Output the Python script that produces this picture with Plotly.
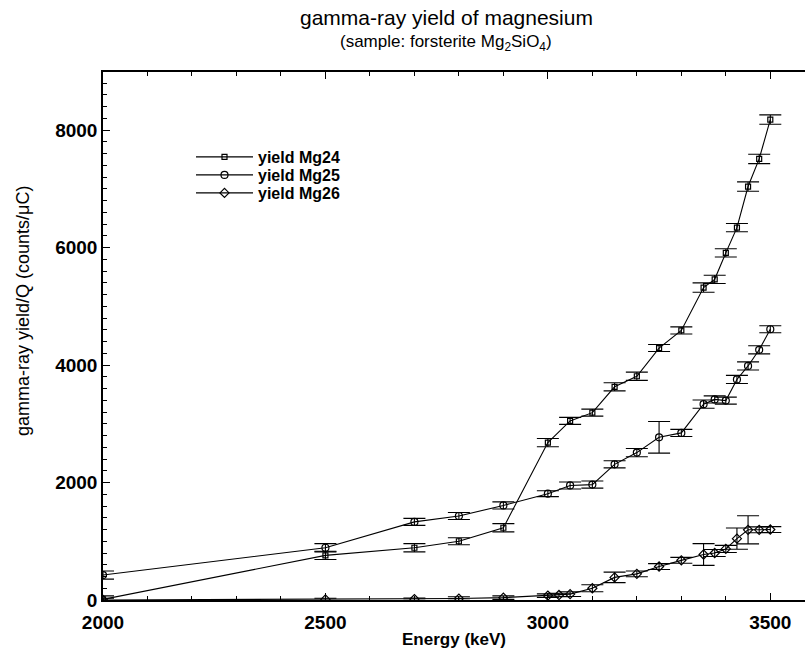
import plotly.graph_objects as go

# Energies (keV) and yields (counts/uC)
E24 = [2000, 2500, 2700, 2800, 2900, 3000, 3050, 3100, 3150, 3200, 3250, 3300, 3350, 3375, 3400, 3425, 3450, 3475, 3500]
Y24 = [10, 760, 890, 1000, 1230, 2680, 3050, 3190, 3630, 3810, 4290, 4590, 5320, 5460, 5910, 6340, 7040, 7510, 8180]
ERR24 = [60, 70, 70, 60, 70, 70, 60, 60, 70, 70, 60, 60, 80, 70, 70, 70, 80, 80, 80]

E25 = [2000, 2500, 2700, 2800, 2900, 3000, 3050, 3100, 3150, 3200, 3250, 3300, 3350, 3375, 3400, 3425, 3450, 3475, 3500]
Y25 = [425, 890, 1330, 1430, 1610, 1810, 1950, 1965, 2310, 2510, 2770, 2845, 3335, 3415, 3395, 3755, 3985, 4260, 4610]
ERR25 = [70, 70, 60, 60, 60, 50, 60, 60, 60, 70, 270, 60, 70, 60, 60, 70, 70, 70, 60]

E26 = [2000, 2500, 2700, 2800, 2900, 3000, 3025, 3050, 3100, 3150, 3200, 3250, 3300, 3350, 3375, 3400, 3425, 3450, 3475, 3500]
Y26 = [0, 10, 15, 25, 40, 75, 85, 100, 200, 385, 445, 570, 675, 775, 800, 870, 1045, 1195, 1195, 1200]
ERR26 = [30, 20, 20, 30, 30, 30, 30, 40, 60, 90, 50, 50, 50, 185, 60, 60, 180, 240, 50, 50]

NAMES = ["yield Mg24", "yield Mg25", "yield Mg26"]
SYMBOLS = ["square-open", "circle-open", "diamond-open"]
SIZES = [5, 7, 7]
LEGENDS = ["legend", "legend2", "legend3"]

FONT = "Liberation Sans, Arial, sans-serif"

fig = go.Figure()
for E, Y, ERR, name, sym, sz, lg in zip([E24, E25, E26], [Y24, Y25, Y26], [ERR24, ERR25, ERR26],
                                        NAMES, SYMBOLS, SIZES, LEGENDS):
    fig.add_trace(go.Scatter(
        x=E, y=Y, name=name, mode="lines+markers", legend=lg,
        line=dict(color="black", width=1.1),
        marker=dict(symbol=sym, size=sz, color="black", line=dict(color="black", width=1.2)),
        error_y=dict(type="data", array=ERR, visible=True, color="black", thickness=1.1, width=11),
    ))

axis_common = dict(
    showgrid=False, zeroline=False, showline=True, linecolor="black", linewidth=1.5,
    ticks="inside", ticklen=7, tickwidth=1.2, tickcolor="black",
    tickfont=dict(family=FONT, size=19, color="black", weight="bold"),
)

fig.update_xaxes(
    range=[2000, 3578], tickvals=[2000, 2500, 3000, 3500], mirror="ticks",
    ticklabelstandoff=4,
    minor=dict(ticks="inside", dtick=100, tick0=2000, ticklen=4, tickwidth=1, tickcolor="black"),
    title=dict(text="Energy (keV)", standoff=2,
               font=dict(family=FONT, size=17, color="black", weight="bold")),
    **axis_common,
)
fig.update_yaxes(
    range=[0, 8990], tickvals=[0, 2000, 4000, 6000, 8000], mirror=False,
    minor=dict(ticks="inside", dtick=200, tick0=0, ticklen=4, tickwidth=1, tickcolor="black"),
    **axis_common,
)

legend_common = dict(xanchor="left", yanchor="middle", bgcolor="rgba(0,0,0,0)",
                     font=dict(family=FONT, size=16, color="black", weight="bold"),
                     itemwidth=57)
ROW_PX = [157, 175, 193]
LEG_X = (191 - 103) / 702

fig.update_layout(
    width=805, height=651,
    margin=dict(l=103, r=0, t=72, b=51),
    paper_bgcolor="white", plot_bgcolor="white",
    showlegend=True,
    legend=dict(x=LEG_X, y=(600 - ROW_PX[0]) / 528, **legend_common),
    legend2=dict(x=LEG_X, y=(600 - ROW_PX[1]) / 528, **legend_common),
    legend3=dict(x=LEG_X, y=(600 - ROW_PX[2]) / 528, **legend_common),
    annotations=[
        dict(text="gamma-ray yield of magnesium", xref="paper", yref="paper",
             x=0.489, y=(600 - 18) / 528, xanchor="center", yanchor="middle",
             showarrow=False, font=dict(family=FONT, size=21, color="black")),
        dict(text="(sample: forsterite Mg<sub>2</sub>SiO<sub>4</sub>)", xref="paper", yref="paper",
             x=0.489, y=(600 - 43) / 528, xanchor="center", yanchor="middle",
             showarrow=False, font=dict(family=FONT, size=17, color="black")),
        dict(text="gamma-ray yield/Q (counts/μC)", xref="paper", yref="paper",
             x=(23 - 103) / 702, y=(600 - 311) / 528, xanchor="center", yanchor="middle",
             textangle=-90, showarrow=False, font=dict(family=FONT, size=18, color="black")),
    ],
)

fig.write_html("out.html")
